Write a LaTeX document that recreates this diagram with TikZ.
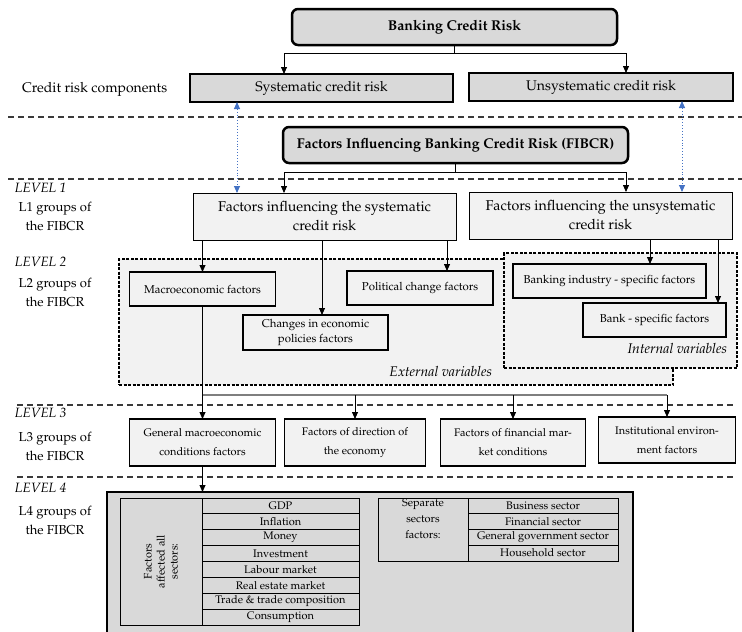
\documentclass[tikz,border=0pt]{standalone}
\usepackage[T1]{fontenc}
\usepackage{mathpazo}
\usetikzlibrary{arrows.meta,calc}
\definecolor{gdark}{HTML}{D9D9D9}
\definecolor{glight}{HTML}{F2F2F2}
\definecolor{sepgray}{HTML}{3A3A3A}
\definecolor{linkblue}{HTML}{4472C4}
\definecolor{hlgray}{HTML}{7F7F7F}
\newcommand{\fsz}[2]{\fontsize{#1}{#2}\selectfont}
\begin{document}
\begin{tikzpicture}[x=1pt,y=-1pt,
  every node/.style={inner sep=0pt, outer sep=0pt, align=center},
  topbox/.style={draw, line width=2.5pt, fill=gdark, rounded corners=6pt, font=\fsz{14.2}{16}\bfseries},
  compbox/.style={draw, line width=2pt, fill=gdark, font=\fsz{14}{16}},
  lonebox/.style={draw, line width=1pt, fill=glight, font=\fsz{14.2}{19}},
  ltwobox/.style={draw, line width=1.6pt, fill=glight, font=\fsz{11.4}{15}},
  lthreebox/.style={draw, line width=1.4pt, fill=glight, font=\fsz{11}{19}},
  cell/.style={draw, line width=0.8pt, font=\fsz{11}{13}},
  grp/.style={draw, line width=1.4pt, dash pattern=on 3pt off 1.5pt, fill=glight},
  sep/.style={draw=sepgray, line width=1.3pt, dash pattern=on 6pt off 4pt},
  arr/.style={draw, line width=0.8pt, -{Triangle[length=7pt,width=6pt]}},
  link/.style={draw=linkblue, line width=0.9pt, dotted, {Triangle[length=7pt,width=6pt]}-{Triangle[length=7pt,width=6pt]}},
  lvl/.style={font=\fsz{13.5}{15}\itshape, anchor=west},
  grplabel/.style={font=\fsz{13}{19}},
  varlabel/.style={font=\fsz{14}{16}\itshape, anchor=east},
]
\useasboundingbox[fill=white] (0,0) rectangle (742,632);

% separators
\coordinate (s1a) at (8,117);   \coordinate (s1b) at (742,117);
\coordinate (s2a) at (8,179);   \coordinate (s2b) at (742,179);
\coordinate (s3a) at (17,405);  \coordinate (s3b) at (736,405);
\coordinate (s4a) at (17,477);  \coordinate (s4b) at (736,477);
\draw[sep] (s1a) -- (s1b);
\draw[sep] (s2a) -- (s2b);
\draw[sep] (s3a) -- (s3b);
\draw[sep] (s4a) -- (s4b);

% left labels
\node[font=\fsz{14}{16}, anchor=west] (crc) at (22,89) {Credit risk components};
\node[lvl] (lv1) at (15,188) {LEVEL 1};
\node[lvl] (lv2) at (15,262) {LEVEL 2};
\node[lvl] (lv3) at (15,413) {LEVEL 3};
\node[lvl] (lv4) at (15,488) {LEVEL 4};
\node[grplabel] (g1) at (55,216.5) {L1 groups of\\the FIBCR};
\node[grplabel] (g2) at (55,292) {L2 groups of\\the FIBCR};
\node[grplabel] (g3) at (55,446.5) {L3 groups of\\the FIBCR};
\node[grplabel] (g4) at (55,520) {L4 groups of\\the FIBCR};

% top part
\node[topbox, minimum width=325, minimum height=36] (bcr) at (454.5,27) {Banking Credit Risk};
\node[compbox, minimum width=263, minimum height=28] (sys) at (321.5,88) {Systematic credit risk};
\node[compbox, minimum width=264, minimum height=28] (unsys) at (601,87) {Unsystematic credit risk};
\node[topbox, minimum width=345, minimum height=36] (fibcr) at (455.5,145) {Factors Influencing Banking Credit Risk (FIBCR)};

\draw[arr] (bcr.south) |- ([xshift=-37.5pt,yshift=21pt]sys.north) -- ([xshift=-37.5pt]sys.north);
\draw[arr] (bcr.south) |- ([xshift=25pt,yshift=20pt]unsys.north) -- ([xshift=25pt]unsys.north);

% level 1
\node[lonebox, minimum width=263, minimum height=47] (l1s) at (324.5,216.5) {Factors influencing the systematic\\credit risk};
\node[lonebox, minimum width=263, minimum height=47] (l1u) at (600.5,215.5) {Factors influencing the unsystematic\\credit risk};

\draw[arr] (fibcr.south) |- ([xshift=-40.5pt,yshift=21pt]l1s.north) -- ([xshift=-40.5pt]l1s.north);
\draw[arr] (fibcr.south) |- ([xshift=25.5pt,yshift=20pt]l1u.north) -- ([xshift=25.5pt]l1u.north);

\draw[link] ([xshift=44pt]l1s.north west |- sys.south) -- ([xshift=44pt]l1s.north west);
\draw[link] ([xshift=213pt]l1u.north west |- unsys.south) -- ([xshift=213pt]l1u.north west);

% level 2
\node[grp, minimum width=554, minimum height=126] (ext) at (396,322) {};
\node[grp, minimum width=233, minimum height=115] (int) at (620.5,310.5) {};
\node[varlabel] (extl) at (492,372) {External variables};
\node[varlabel] (intl) at (727,349) {Internal variables};

\node[ltwobox, minimum width=146, minimum height=34] (macro) at (202.5,289) {Macroeconomic factors};
\node[ltwobox, minimum width=146, minimum height=34] (pol) at (420,288) {Political change factors};
\node[ltwobox, minimum width=145, minimum height=35] (chg) at (315.5,332.5) {Changes in economic\\policies factors};
\node[ltwobox, minimum width=193, minimum height=34] (bind) at (609.5,281) {Banking industry - specific factors};
\node[ltwobox, minimum width=143, minimum height=34] (bspec) at (654.5,320) {Bank - specific factors};

\draw[arr] (l1s.south -| macro.north) -- (macro.north);
\draw[arr] ([xshift=6.5pt]chg.north |- l1s.south) -- ([xshift=6.5pt]chg.north);
\draw[arr] ([xshift=27pt]pol.north |- l1s.south) -- ([xshift=27pt]pol.north);
\draw[arr] ([xshift=40.5pt]bind.north |- l1u.south) -- ([xshift=40.5pt]bind.north);
\draw[arr] ([xshift=63.5pt]bspec.north |- l1u.south) -- ([xshift=63.5pt]bspec.north);

% level 3
\node[lthreebox, minimum width=146, minimum height=47] (gen) at (202.5,442.5) {General macroeconomic\\conditions factors};
\node[lthreebox, minimum width=141, minimum height=47] (dir) at (355,442.5) {Factors of direction of\\the economy};
\node[lthreebox, minimum width=145, minimum height=47] (fin) at (513,442.5) {Factors of financial mar-\\ket conditions};
\node[lthreebox, minimum width=137, minimum height=46] (inst) at (667,440) {Institutional environ-\\ment factors};

\coordinate (split) at (202.5,395);
\draw[arr] (macro.south) -- (gen.north);
\draw[draw=hlgray, line width=1.2pt] (split) -- (split -| inst.north);
\draw[arr] (split -| dir.north) -- (dir.north);
\draw[arr] (split -| fin.north) -- (fin.north);
\draw[arr] (split -| inst.north) -- (inst.north);

% level 4
\node[draw, line width=2pt, fill=gdark, minimum width=526, minimum height=153] (l4) at (370,568.5) {};
\draw[arr] (gen.south) -- (gen.south |- l4.north);

\node[cell, rotate=90, minimum width=127, minimum height=82] (allc) at (161,561.5) {Factors\\affected all\\sectors:};
\foreach \t [count=\i from 0] in {GDP,Inflation,Money,Investment,Labour market,Real estate market,{Trade \& trade composition},Consumption}
  \node[cell, minimum width=157, minimum height=15.875] (a\i) at (280.5,{505.94+15.875*\i}) {\t};

\node[cell, minimum width=90, minimum height=63] (sepc) at (423,529.5) {};
\node[font=\fsz{11}{16}, anchor=north] (sept) at ([yshift=-1pt]sepc.north) {Separate\\sectors\\factors:};
\foreach \t [count=\i from 0] in {Business sector,Financial sector,General government sector,Household sector}
  \node[cell, minimum width=150, minimum height=15.75] (b\i) at (543,{505.88+15.75*\i}) {\t};
\end{tikzpicture}
\end{document}
